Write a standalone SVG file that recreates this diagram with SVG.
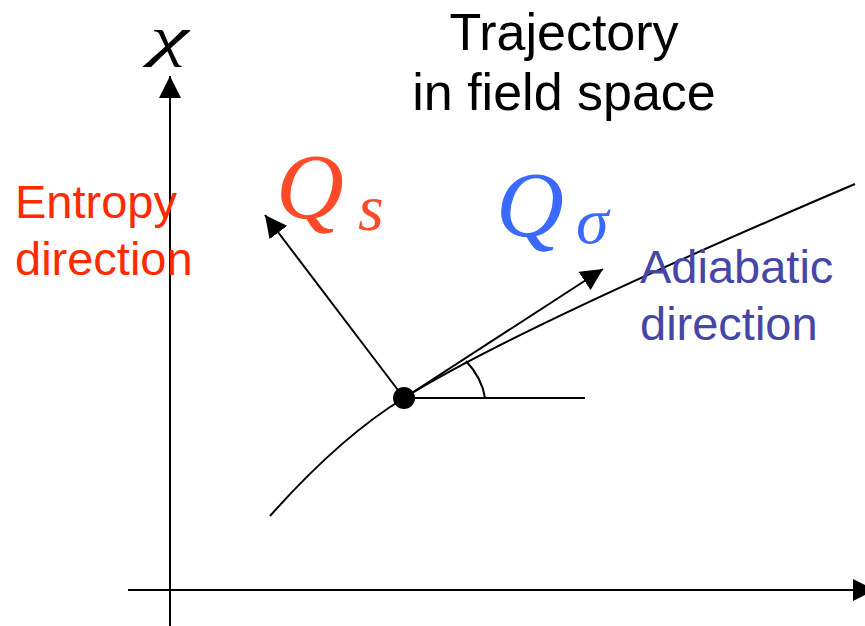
<svg xmlns="http://www.w3.org/2000/svg" width="865" height="626" viewBox="0 0 865 626">
  <defs>
    <marker id="arr" markerUnits="userSpaceOnUse" markerWidth="22" markerHeight="22" viewBox="0 0 20 20" refX="20" refY="10" orient="auto">
      <path d="M0,0 L20,10 L0,20 Z" fill="#000"/>
    </marker>
    <style>
      .ln { stroke: #000; stroke-width: 2; fill: none; }
      .sans { font-family: "Liberation Sans", Arial, sans-serif; font-size: 47px; }
      .math { font-family: "Liberation Serif", "Times New Roman", serif; font-style: italic; }
    </style>
  </defs>
  <rect width="865" height="626" fill="#fff"/>

  <g id="axes">
    <line class="ln" x1="170" y1="626" x2="170" y2="76" marker-end="url(#arr)"/>
    <line class="ln" x1="128" y1="590" x2="875" y2="590" marker-end="url(#arr)"/>
  </g>

  <g id="connectors">
    <path id="trajectory" class="ln" d="M270,516 C318,462 360,425 404,398 C500,338 700,250 855,184"/>
    <line id="entropy-arrow" class="ln" x1="404" y1="398" x2="265" y2="215" marker-end="url(#arr)"/>
    <line id="adiabatic-arrow" class="ln" x1="404" y1="398" x2="603" y2="269" marker-end="url(#arr)"/>
    <line id="horizontal" class="ln" x1="404" y1="398" x2="585" y2="398"/>
    <path id="angle" class="ln" d="M466,361 Q482,378 485,398"/>
  </g>

  <g id="point">
    <circle cx="404" cy="398" r="11" fill="#000"/>
  </g>

  <g id="chi-label">
    <text class="math" transform="translate(150,55) scale(1.6,1)" x="0" y="0" font-size="55" fill="#000">χ</text>
  </g>

  <g id="title">
    <text class="sans" x="564" y="50" text-anchor="middle" fill="#000" style="font-size:52px">Trajectory</text>
    <text class="sans" x="564" y="110" text-anchor="middle" fill="#000" style="font-size:52px">in field space</text>
  </g>

  <g id="entropy-label">
    <text class="sans" x="15" y="218" fill="#ff2a00">Entropy</text>
    <text class="sans" x="15" y="275" fill="#ff2a00">direction</text>
  </g>

  <g id="adiabatic-label">
    <text class="sans" x="640" y="283" fill="#4646a8">Adiabatic</text>
    <text class="sans" x="640" y="340" fill="#4646a8">direction</text>
  </g>

  <g id="qs-label">
    <text class="math" x="276" y="218" font-size="94" fill="#ff4a2a">Q<tspan font-size="66" dx="14" dy="12">s</tspan></text>
  </g>

  <g id="qsigma-label">
    <text class="math" x="496" y="236" font-size="94" fill="#3a6aff">Q<tspan font-size="66" dx="12" dy="7">σ</tspan></text>
  </g>
</svg>
